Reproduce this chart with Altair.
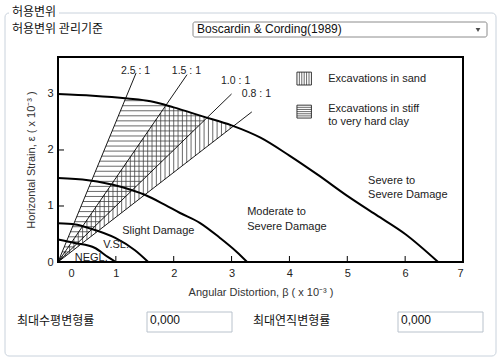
import altair as alt
import pandas as pd
import numpy as np

# ---- boundary curves (beta x1e-3, epsilon x1e-3) ----
top_x = [0, 0.6, 1.2, 1.6, 2.0, 2.5, 3.0, 3.5, 4.0, 4.5, 5.0, 5.5, 6.0, 6.57]
top_y = [3.0, 2.97, 2.92, 2.87, 2.76, 2.6, 2.44, 2.22, 1.9, 1.55, 1.18, 0.84, 0.5, 0.0]
slight_x = [0, 0.52, 1.1, 1.5, 1.85, 2.11, 2.45, 2.8, 3.09, 3.27]
slight_y = [1.5, 1.46, 1.34, 1.2, 1.02, 0.875, 0.70, 0.43, 0.18, 0.0]
vsl_x = [0, 0.3, 0.52, 0.99, 1.33, 1.56]
vsl_y = [0.69, 0.67, 0.61, 0.43, 0.21, 0.0]
negl_x = [0, 0.29, 0.64, 0.86, 1.0]
negl_y = [0.40, 0.34, 0.25, 0.09, 0.0]

# ---- L/H ratio lines ----
ratios = [2.5, 1.5, 1.0, 0.8]
ratio_labels = ["2.5 : 1", "1.5 : 1", "1.0 : 1", "0.8 : 1"]
ratio_end_x = [1.35, 2.23, 3.0, 3.35]
ratio_label_x = [1.34, 2.22, 3.07, 3.43]
ratio_label_y = [3.41, 3.41, 3.23, 3.0]

# ---- region labels ----
region_text = ["NEGL.", "V.SL.", "Slight Damage", "Moderate to", "Severe Damage",
               "Severe to", "Severe Damage"]
region_x = [0.29, 0.78, 1.11, 3.27, 3.27, 5.36, 5.36]
region_y = [0.07, 0.30, 0.55, 0.89, 0.625, 1.45, 1.2]

# ---- legend ----
legend_text = ["Excavations in sand", "Excavations in stiff", "to very hard clay"]
legend_text_x = [4.67, 4.67, 4.67]
legend_text_y = [3.27, 2.73, 2.5]
legend_box_x = [4.13, 4.38]
sand_box_y = [3.16, 3.39]
clay_box_y = [2.57, 2.80]

x_ticks = [0, 1, 2, 3, 4, 5, 6, 7]
y_ticks = [0, 1, 2, 3]

# ---------------------------------------------------------------
X = alt.Scale(domain=[0, 7], nice=False, zero=False)
Y = alt.Scale(domain=[0, 3.66], nice=False, zero=False)
FONT = "Liberation Sans"
KFONT = "Noto Sans CJK KR"

curve_rows = []
for name, xs, ys in [("top", top_x, top_y), ("slight", slight_x, slight_y),
                     ("vsl", vsl_x, vsl_y), ("negl", negl_x, negl_y)]:
    for i, (a, b) in enumerate(zip(xs, ys)):
        curve_rows.append({"curve": name, "x": a, "y": b, "o": i})
curves_df = pd.DataFrame(curve_rows)

# hatch geometry derived from the boundaries
tx = np.array(top_x); ty = np.array(top_y)
def curve_at(x):
    return float(np.interp(x, tx, ty))
def x_at(y):
    return float(np.interp(y, ty[::-1], tx[::-1]))

hrows = []
for y in np.arange(0.09, 3.0, 0.09):
    xl = y / 2.5
    if y >= curve_at(xl):
        continue
    xr = min(y / 1.0, x_at(y))
    if xr > xl:
        hrows.append({"x": xl, "x2": xr, "y": y, "y2": y})
for x in np.arange(0.05, 3.2, 0.075):
    yl = 0.8 * x
    yh = min(1.5 * x, curve_at(x))
    if yh > yl:
        hrows.append({"x": x, "x2": x, "y": yl, "y2": yh})
# legend box hatches
for x in np.linspace(legend_box_x[0], legend_box_x[1], 7)[1:-1]:
    hrows.append({"x": x, "x2": x, "y": sand_box_y[0], "y2": sand_box_y[1]})
for y in np.linspace(clay_box_y[0], clay_box_y[1], 7)[1:-1]:
    hrows.append({"x": legend_box_x[0], "x2": legend_box_x[1], "y": y, "y2": y})
hatch_df = pd.DataFrame(hrows)

hatch = alt.Chart(hatch_df).mark_rule(color="#444", strokeWidth=0.8).encode(
    x=alt.X("x:Q", scale=X), x2="x2:Q", y=alt.Y("y:Q", scale=Y), y2="y2:Q")

axes_base = alt.Chart(pd.DataFrame({"x": [0], "y": [0]})).mark_point(opacity=0).encode(
    x=alt.X("x:Q", scale=X, axis=alt.Axis(
        values=x_ticks, format="d", ticks=False, domain=False, grid=False, labelPadding=5,
        labelFont=FONT, labelFontSize=11, labelColor="#222",
        labelOffset={"condition": {"test": "datum.value === 0", "value": 10}, "value": 0},
        title="Angular Distortion,  β  ( x 10⁻³ )", titleFont=FONT, titleFontSize=11,
        titleFontWeight="normal", titleColor="#333", titlePadding=8)),
    y=alt.Y("y:Q", scale=Y, axis=alt.Axis(
        values=y_ticks, format="d", ticks=False, domain=False, grid=False, labelPadding=5,
        labelFont=FONT, labelFontSize=11, labelColor="#222",
        title="Horizontal Strain,  ε  ( x 10⁻³ )", titleFont=FONT, titleFontSize=11,
        titleFontWeight="normal", titleColor="#333", titlePadding=10)))

curves = alt.Chart(curves_df).mark_line(color="black", strokeWidth=2, interpolate="monotone").encode(
    x=alt.X("x:Q", scale=X), y=alt.Y("y:Q", scale=Y), detail="curve:N", order="o:Q")

fan_df = pd.DataFrame({"x0": [0] * 4, "y0": [0] * 4, "x1": ratio_end_x,
                       "y1": [r * e for r, e in zip(ratios, ratio_end_x)]})
fan = alt.Chart(fan_df).mark_rule(color="black", strokeWidth=0.9).encode(
    x=alt.X("x0:Q", scale=X), y=alt.Y("y0:Q", scale=Y), x2="x1:Q", y2="y1:Q")

ratio_txt = alt.Chart(pd.DataFrame({"t": ratio_labels, "x": ratio_label_x, "y": ratio_label_y})).mark_text(
    font=FONT, fontSize=10.5, color="#222").encode(
    x=alt.X("x:Q", scale=X), y=alt.Y("y:Q", scale=Y), text="t:N")

region_txt = alt.Chart(pd.DataFrame({"t": region_text, "x": region_x, "y": region_y})).mark_text(
    font=FONT, fontSize=11, color="#222", align="left", baseline="middle").encode(
    x=alt.X("x:Q", scale=X), y=alt.Y("y:Q", scale=Y), text="t:N")

legend_txt = alt.Chart(pd.DataFrame({"t": legend_text, "x": legend_text_x, "y": legend_text_y})).mark_text(
    font=FONT, fontSize=11, color="#222", align="left", baseline="middle").encode(
    x=alt.X("x:Q", scale=X), y=alt.Y("y:Q", scale=Y), text="t:N")

box_df = pd.DataFrame({"x": [legend_box_x[0]] * 2, "x2": [legend_box_x[1]] * 2,
                       "y": [sand_box_y[0], clay_box_y[0]], "y2": [sand_box_y[1], clay_box_y[1]]})
boxes = alt.Chart(box_df).mark_rect(fill="white", fillOpacity=0, stroke="#222", strokeWidth=0.9).encode(
    x=alt.X("x:Q", scale=X), x2="x2:Q", y=alt.Y("y:Q", scale=Y), y2="y2:Q")

tick_x = alt.Chart(pd.DataFrame({"v": [1, 2, 3, 4, 5, 6]})).mark_rule(color="black", strokeWidth=1).encode(
    x=alt.X("v:Q", scale=X), y=alt.value(205), y2=alt.value(199))
tick_y = alt.Chart(pd.DataFrame({"v": [1, 2]})).mark_rule(color="black", strokeWidth=1).encode(
    y=alt.Y("v:Q", scale=Y), x=alt.value(0), x2=alt.value(6))

# ---- surrounding form chrome (pixel positions relative to plot origin) ----
one = pd.DataFrame({"a": [0]})
def rect(x, x2, y, y2, fill, stroke, sw=1, cr=0, fo=1):
    return alt.Chart(one).mark_rect(fill=fill, fillOpacity=fo, stroke=stroke, strokeWidth=sw,
                                    cornerRadius=cr).encode(
        x=alt.value(x), x2=alt.value(x2), y=alt.value(y), y2=alt.value(y2))
def txt(x, y, t, font, size, color="#111"):
    return alt.Chart(one).mark_text(text=t, font=font, fontSize=size, color=color,
                                    align="left", baseline="middle").encode(
        x=alt.value(x), y=alt.value(y))

chrome = [
    rect(-53, 438, -44, 299, "white", "#c9d2dc", 1, 4, 0),
    rect(-49, 1, -50, -38, "white", "white", 0),
    txt(-46, -45, "허용변위", KFONT, 12),
    txt(-46, -28, "허용변위 관리기준", KFONT, 12),
    rect(135, 429, -35, -20, "white", "#8c8c8c", 1, 2),
    txt(139, -28, "Boscardin & Cording(1989)", FONT, 12),
    alt.Chart(one).mark_point(shape="triangle-down", filled=True, size=22, color="black").encode(
        x=alt.value(420), y=alt.value(-27)),
    txt(-41, 264, "최대수평변형률", KFONT, 12),
    rect(89, 174, 255, 275, "white", "#b9c2cc", 1),
    txt(92, 263, "0,000", FONT, 12),
    txt(195, 264, "최대연직변형률", KFONT, 12),
    rect(340, 425, 255, 275, "white", "#b9c2cc", 1),
    txt(343, 263, "0,000", FONT, 12),
]

frame = rect(0, 405, 0, 205, "white", "black", 2, 0, 0)

chart = alt.layer(
    *chrome, axes_base, hatch, fan, curves, boxes, tick_x, tick_y, frame,
    ratio_txt, region_txt, legend_txt
).properties(
    width=405, height=205,
    padding={"left": 58, "top": 57, "right": 37, "bottom": 99},
    autosize=alt.AutoSizeParams(type="none"),
    background="white",
).configure_view(stroke=None)

chart.save("out.html", embed_options={"renderer": "svg", "actions": False})
